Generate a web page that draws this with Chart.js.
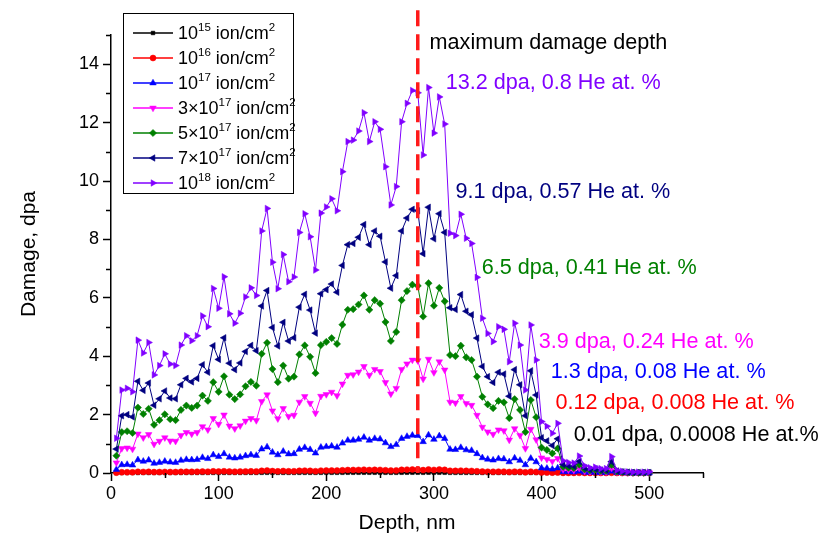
<!DOCTYPE html>
<html>
<head>
<meta charset="utf-8">
<script src="https://cdn.jsdelivr.net/npm/chart.js@4.4.1/dist/chart.umd.min.js"></script>
<style>
  html, body { margin: 0; padding: 0; background: #fff; }
  canvas { display: block; }
</style>
</head>
<body>
<canvas id="chart" width="818" height="542"></canvas>
<script>
(() => {
  // depth, nm
  const depth = [
    5, 10, 15, 20, 25, 30, 35, 40, 45, 50,
    55, 60, 65, 70, 75, 80, 85, 90, 95, 100,
    105, 110, 115, 120, 125, 130, 135, 140, 145, 150,
    155, 160, 165, 170, 175, 180, 185, 190, 195, 200,
    205, 210, 215, 220, 225, 230, 235, 240, 245, 250,
    255, 260, 265, 270, 275, 280, 285, 290, 295, 300,
    305, 310, 315, 320, 325, 330, 335, 340, 345, 350,
    355, 360, 365, 370, 375, 380, 385, 390, 395, 400,
    405, 410, 415, 420, 425, 430, 435, 440, 445, 450,
    455, 460, 465, 470, 475, 480, 485, 490, 495, 500,
  ];

  // damage, dpa — one array per fluence
  const dpa1e15 = [
    0.0009, 0.0022, 0.0022, 0.0021, 0.0034, 0.0031, 0.0034, 0.0025, 0.0028, 0.0031,
    0.0028, 0.0028, 0.0033, 0.0036, 0.0034, 0.0036, 0.0041, 0.0038, 0.0048, 0.0043,
    0.0051, 0.0041, 0.0039, 0.0041, 0.0046, 0.0048, 0.0046, 0.0063, 0.0069, 0.0055,
    0.0048, 0.0057, 0.0050, 0.0051, 0.0062, 0.0067, 0.0061, 0.0053, 0.0067, 0.0069,
    0.0071, 0.0068, 0.0078, 0.0086, 0.0086, 0.0089, 0.0094, 0.0086, 0.0091, 0.0089,
    0.0080, 0.0070, 0.0074, 0.0091, 0.0096, 0.0099, 0.0099, 0.0083, 0.0100, 0.0088,
    0.0098, 0.0091, 0.0062, 0.0062, 0.0067, 0.0061, 0.0060, 0.0051, 0.0040, 0.0036,
    0.0034, 0.0038, 0.0037, 0.0029, 0.0039, 0.0033, 0.0022, 0.0038, 0.0029, 0.0013,
    0.0012, 0.0010, 0.0013, 0.0003, 0.0003, 0.0003, 0.0004, 0.0002, 0.0001, 0.0002,
    0.0001, 0.0001, 0.0004, 0.0001, 0.0000, 0.0000, 0.0000, 0.0000, 0.0000, 0.0000,
  ];
  const dpa1e16 = [
    0.011, 0.026, 0.026, 0.025, 0.041, 0.037, 0.041, 0.031, 0.033, 0.037,
    0.034, 0.033, 0.040, 0.043, 0.041, 0.043, 0.049, 0.046, 0.057, 0.051,
    0.061, 0.050, 0.047, 0.050, 0.055, 0.058, 0.055, 0.075, 0.082, 0.066,
    0.057, 0.068, 0.060, 0.061, 0.075, 0.081, 0.074, 0.063, 0.081, 0.083,
    0.085, 0.082, 0.094, 0.103, 0.104, 0.106, 0.112, 0.103, 0.109, 0.107,
    0.095, 0.083, 0.089, 0.109, 0.115, 0.119, 0.118, 0.099, 0.120, 0.106,
    0.117, 0.109, 0.075, 0.074, 0.081, 0.073, 0.071, 0.061, 0.048, 0.043,
    0.041, 0.046, 0.045, 0.035, 0.047, 0.040, 0.026, 0.046, 0.035, 0.016,
    0.015, 0.012, 0.015, 0.004, 0.003, 0.003, 0.005, 0.002, 0.002, 0.002,
    0.001, 0.001, 0.005, 0.001, 0.001, 0.000, 0.000, 0.000, 0.000, 0.000,
  ];
  const dpa1e17 = [
    0.12, 0.28, 0.29, 0.27, 0.45, 0.40, 0.44, 0.33, 0.36, 0.40,
    0.37, 0.36, 0.43, 0.46, 0.45, 0.46, 0.53, 0.49, 0.62, 0.56,
    0.66, 0.54, 0.51, 0.54, 0.59, 0.62, 0.60, 0.82, 0.89, 0.71,
    0.62, 0.74, 0.65, 0.66, 0.81, 0.87, 0.80, 0.68, 0.88, 0.90,
    0.92, 0.88, 1.02, 1.12, 1.12, 1.15, 1.22, 1.12, 1.18, 1.16,
    1.03, 0.90, 0.97, 1.18, 1.25, 1.29, 1.28, 1.07, 1.30, 1.15,
    1.27, 1.18, 0.81, 0.80, 0.87, 0.79, 0.77, 0.66, 0.52, 0.47,
    0.44, 0.49, 0.48, 0.38, 0.51, 0.43, 0.28, 0.50, 0.38, 0.17,
    0.16, 0.13, 0.17, 0.04, 0.04, 0.03, 0.06, 0.02, 0.02, 0.02,
    0.01, 0.01, 0.06, 0.01, 0.01, 0.00, 0.00, 0.00, 0.00, 0.00,
  ];
  const dpa3e17 = [
    0.35, 0.84, 0.86, 0.82, 1.34, 1.21, 1.32, 0.99, 1.09, 1.21,
    1.10, 1.09, 1.29, 1.39, 1.34, 1.39, 1.59, 1.48, 1.87, 1.67,
    1.99, 1.61, 1.52, 1.62, 1.78, 1.87, 1.80, 2.45, 2.68, 2.13,
    1.86, 2.21, 1.94, 1.98, 2.43, 2.62, 2.39, 2.05, 2.63, 2.69,
    2.77, 2.65, 3.05, 3.35, 3.37, 3.46, 3.65, 3.35, 3.55, 3.48,
    3.10, 2.71, 2.90, 3.55, 3.74, 3.87, 3.85, 3.22, 3.90, 3.44,
    3.81, 3.53, 2.43, 2.40, 2.62, 2.38, 2.32, 1.98, 1.57, 1.41,
    1.33, 1.48, 1.45, 1.13, 1.52, 1.29, 0.84, 1.50, 1.14, 0.52,
    0.47, 0.40, 0.50, 0.12, 0.11, 0.10, 0.17, 0.07, 0.05, 0.06,
    0.04, 0.04, 0.17, 0.03, 0.02, 0.01, 0.01, 0.01, 0.01, 0.01,
  ];
  const dpa5e17 = [
    0.59, 1.40, 1.43, 1.37, 2.24, 2.02, 2.20, 1.65, 1.81, 2.01,
    1.84, 1.81, 2.16, 2.31, 2.23, 2.31, 2.65, 2.47, 3.11, 2.78,
    3.31, 2.68, 2.53, 2.69, 2.97, 3.12, 2.99, 4.08, 4.46, 3.56,
    3.11, 3.68, 3.23, 3.30, 4.06, 4.37, 3.98, 3.42, 4.38, 4.49,
    4.62, 4.42, 5.08, 5.59, 5.61, 5.77, 6.08, 5.59, 5.92, 5.80,
    5.17, 4.52, 4.83, 5.92, 6.23, 6.45, 6.41, 5.36, 6.50, 5.73,
    6.34, 5.88, 4.04, 4.00, 4.36, 3.96, 3.87, 3.30, 2.61, 2.35,
    2.22, 2.47, 2.42, 1.88, 2.53, 2.16, 1.40, 2.50, 1.91, 0.87,
    0.79, 0.67, 0.84, 0.21, 0.18, 0.17, 0.29, 0.12, 0.09, 0.10,
    0.07, 0.07, 0.28, 0.05, 0.03, 0.02, 0.01, 0.01, 0.01, 0.01,
  ];
  const dpa7e17 = [
    0.82, 1.96, 2.00, 1.92, 3.14, 2.83, 3.08, 2.32, 2.54, 2.81,
    2.57, 2.54, 3.02, 3.24, 3.12, 3.24, 3.71, 3.45, 4.36, 3.89,
    4.63, 3.76, 3.54, 3.77, 4.16, 4.37, 4.19, 5.72, 6.25, 4.98,
    4.35, 5.16, 4.52, 4.63, 5.68, 6.12, 5.58, 4.79, 6.14, 6.28,
    6.47, 6.19, 7.11, 7.82, 7.86, 8.07, 8.51, 7.82, 8.29, 8.11,
    7.23, 6.33, 6.76, 8.29, 8.73, 9.03, 8.98, 7.51, 9.10, 8.02,
    8.88, 8.24, 5.66, 5.60, 6.11, 5.54, 5.42, 4.62, 3.65, 3.30,
    3.10, 3.45, 3.39, 2.63, 3.54, 3.02, 1.96, 3.50, 2.67, 1.21,
    1.10, 0.94, 1.17, 0.29, 0.25, 0.23, 0.40, 0.17, 0.12, 0.14,
    0.10, 0.10, 0.39, 0.07, 0.04, 0.03, 0.02, 0.02, 0.02, 0.02,
  ];
  const dpa1e18 = [
    1.19, 2.84, 2.90, 2.78, 4.55, 4.11, 4.47, 3.36, 3.68, 4.08,
    3.73, 3.68, 4.38, 4.70, 4.53, 4.70, 5.38, 5.01, 6.32, 5.64,
    6.72, 5.45, 5.13, 5.47, 6.03, 6.34, 6.08, 8.29, 9.06, 7.22,
    6.31, 7.48, 6.55, 6.71, 8.24, 8.88, 8.09, 6.95, 8.90, 9.11,
    9.39, 8.98, 10.32, 11.35, 11.40, 11.71, 12.34, 11.35, 12.03, 11.77,
    10.49, 9.18, 9.81, 12.03, 12.66, 13.10, 13.02, 10.89, 13.20, 11.64,
    12.88, 11.95, 8.21, 8.13, 8.86, 8.04, 7.86, 6.70, 5.30, 4.78,
    4.50, 5.01, 4.92, 3.81, 5.13, 4.38, 2.84, 5.07, 3.87, 1.76,
    1.60, 1.36, 1.70, 0.42, 0.36, 0.34, 0.58, 0.25, 0.18, 0.20,
    0.15, 0.15, 0.56, 0.10, 0.06, 0.04, 0.03, 0.03, 0.03, 0.03,
  ];

  // legend text, ^{..} marks a superscript
  const seriesLabels = [
    "10^{15} ion/cm^{2}",
    "10^{16} ion/cm^{2}",
    "10^{17} ion/cm^{2}",
    "3×10^{17} ion/cm^{2}",
    "5×10^{17} ion/cm^{2}",
    "7×10^{17} ion/cm^{2}",
    "10^{18} ion/cm^{2}",
  ];
  const seriesValues = [dpa1e15, dpa1e16, dpa1e17, dpa3e17, dpa5e17, dpa7e17, dpa1e18];

  const seriesColors = ["#000000", "#ff0000", "#0000ff", "#ff00ff", "#008000", "#000080", "#8000ff"];
  const seriesMarkers = [
    { style: "rect", rot: 0, r: 2.6 },
    { style: "circle", rot: 0, r: 3 },
    { style: "triangle", rot: 0, r: 3.8 },
    { style: "triangle", rot: 180, r: 3.8 },
    { style: "rectRot", rot: 0, r: 3.6 },
    { style: "triangle", rot: 270, r: 3.8 },
    { style: "triangle", rot: 90, r: 3.8 },
  ];

  // depth of the damage maximum (dashed marker line)
  const maxDamageDepth = 285;

  // text notes next to the curves
  const noteTexts = [
    "maximum damage depth",
    "13.2 dpa, 0.8 He at. %",
    "9.1 dpa, 0.57 He at. %",
    "6.5 dpa, 0.41 He at. %",
    "3.9 dpa, 0.24 He at. %",
    "1.3 dpa, 0.08 He at. %",
    "0.12 dpa, 0.008 He at. %",
    "0.01 dpa, 0.0008 He at.%",
  ];
  const noteColors = ["#000000", "#8000ff", "#000080", "#008000", "#ff00ff", "#0000ff", "#ff0000", "#000000"];
  // anchor of each note in axis units (left edge, vertical middle)
  const noteAnchors = [
    [296, 14.73], [311, 13.36], [320, 9.62], [344.5, 7.02],
    [397.4, 4.5], [408.5, 3.47], [412.9, 2.39], [429.9, 1.3],
  ];

  const FONT = "'Liberation Sans', Arial, Helvetica, sans-serif";
  Chart.defaults.font.family = FONT;
  Chart.defaults.color = "#000";

  const datasets = seriesValues.map((vals, i) => ({
    label: seriesLabels[i],
    data: depth.map((d, k) => ({ x: d, y: vals[k] })),
    borderColor: seriesColors[i],
    backgroundColor: seriesColors[i],
    pointBackgroundColor: seriesColors[i],
    pointBorderColor: seriesColors[i],
    borderWidth: 1,
    pointBorderWidth: 0.5,
    pointStyle: seriesMarkers[i].style,
    pointRotation: seriesMarkers[i].rot,
    pointRadius: seriesMarkers[i].r,
    tension: 0,
    clip: false,
    order: seriesValues.length - 1 - i, // last series on top
  }));

  function parseRich(text) {
    // "10^{15} ion" -> [["10", false], ["15", true], [" ion", false]]
    const parts = text.split(/\^\{([^}]*)\}/);
    return parts.map((p, i) => [p, i % 2 === 1]).filter((p) => p[0] !== "");
  }

  function drawRich(ctx, text, x, y, size, supSize) {
    let cx = x;
    ctx.textAlign = "left";
    ctx.textBaseline = "alphabetic";
    for (const [str, sup] of parseRich(text)) {
      ctx.font = `${sup ? supSize : size}px ${FONT}`;
      ctx.fillText(str, cx, sup ? y - size * 0.45 : y);
      cx += ctx.measureText(str).width;
    }
  }

  // minor ticks between the labelled ones
  const minorTicks = {
    id: "minorTicks",
    afterDraw(chart) {
      const { ctx } = chart;
      const xs = chart.scales.x;
      const ys = chart.scales.y;
      ctx.save();
      ctx.strokeStyle = "#000";
      ctx.lineWidth = 1.5;
      ctx.beginPath();
      for (let v = 50; v <= 550; v += 100) {
        const px = Math.round(xs.getPixelForValue(v)) + 0.5;
        ctx.moveTo(px, ys.bottom);
        ctx.lineTo(px, ys.bottom + 5);
      }
      for (let v = 1; v <= 15; v += 2) {
        const py = Math.round(ys.getPixelForValue(v)) + 0.5;
        ctx.moveTo(xs.left, py);
        ctx.lineTo(xs.left - 5, py);
      }
      ctx.stroke();
      ctx.restore();
    },
  };

  // dashed line + coloured notes
  const notes = {
    id: "notes",
    afterDatasetsDraw(chart) {
      const { ctx } = chart;
      const xs = chart.scales.x;
      const ys = chart.scales.y;
      ctx.save();
      const lx = xs.getPixelForValue(maxDamageDepth);
      ctx.strokeStyle = "#ff1a1a";
      ctx.lineWidth = 3.5;
      ctx.setLineDash([16, 8]);
      ctx.beginPath();
      ctx.moveTo(lx, ys.getPixelForValue(15.85));
      ctx.lineTo(lx, ys.getPixelForValue(0));
      ctx.stroke();
      ctx.setLineDash([]);

      ctx.font = `21.6px ${FONT}`;
      ctx.textAlign = "left";
      ctx.textBaseline = "middle";
      noteTexts.forEach((t, i) => {
        ctx.fillStyle = noteColors[i];
        ctx.fillText(t, xs.getPixelForValue(noteAnchors[i][0]), ys.getPixelForValue(noteAnchors[i][1]));
      });
      ctx.restore();
    },
  };

  // framed legend in the upper left corner
  const boxLegend = {
    id: "boxLegend",
    afterDraw(chart) {
      const { ctx } = chart;
      ctx.save();
      ctx.fillStyle = "#fff";
      ctx.fillRect(123, 13, 170, 180);
      ctx.strokeStyle = "#000";
      ctx.lineWidth = 1;
      ctx.strokeRect(123.5, 13.5, 170, 180);
      chart.data.datasets.forEach((ds, i) => {
        const y = 33 + i * 25;
        ctx.strokeStyle = ds.borderColor;
        ctx.lineWidth = 1.5;
        ctx.beginPath();
        ctx.moveTo(133, y);
        ctx.lineTo(173, y);
        ctx.stroke();
        ctx.fillStyle = ds.pointBackgroundColor;
        ctx.lineWidth = 0.5;
        Chart.helpers.drawPoint(ctx, {
          pointStyle: ds.pointStyle,
          rotation: ds.pointRotation,
          radius: ds.pointRadius,
          borderWidth: 0.5,
        }, 153, y);
        ctx.fillStyle = "#000";
        drawRich(ctx, ds.label, 178, y + 6, 18, 11.5);
      });
      ctx.restore();
    },
  };

  new Chart(document.getElementById("chart"), {
    type: "line",
    data: { datasets },
    options: {
      responsive: false,
      animation: false,
      parsing: false,
      events: [],
      layout: { padding: { top: 35, right: 115, left: 0, bottom: 0 } },
      plugins: {
        legend: { display: false },
        tooltip: { enabled: false },
      },
      scales: {
        x: {
          type: "linear",
          min: 0,
          max: 550,
          afterFit: (s) => { s.height = 69; },
          afterBuildTicks: (s) => { s.ticks = s.ticks.filter((t) => t.value % 100 === 0); },
          ticks: { stepSize: 100, font: { size: 18 }, color: "#000", padding: 2, maxRotation: 0 },
          grid: { drawOnChartArea: false, drawTicks: true, tickLength: 8, tickColor: "#000", tickWidth: 1.5 },
          border: { display: true, color: "#000", width: 1.5 },
          title: { display: true, text: "Depth, nm", font: { size: 21 }, color: "#000", padding: { top: 0, bottom: 6 } },
        },
        y: {
          type: "linear",
          min: 0,
          max: 15,
          afterFit: (s) => { s.width = 111; },
          afterBuildTicks: (s) => { s.ticks = s.ticks.filter((t) => t.value % 2 === 0); },
          ticks: { stepSize: 2, font: { size: 18 }, color: "#000", padding: 4 },
          grid: { drawOnChartArea: false, drawTicks: true, tickLength: 8, tickColor: "#000", tickWidth: 1.5 },
          border: { display: true, color: "#000", width: 1.5 },
          title: { display: true, text: "Damage, dpa", font: { size: 21 }, color: "#000", padding: { top: 17, bottom: 0 } },
        },
      },
    },
    plugins: [minorTicks, notes, boxLegend],
  });
})();
</script>
</body>
</html>
